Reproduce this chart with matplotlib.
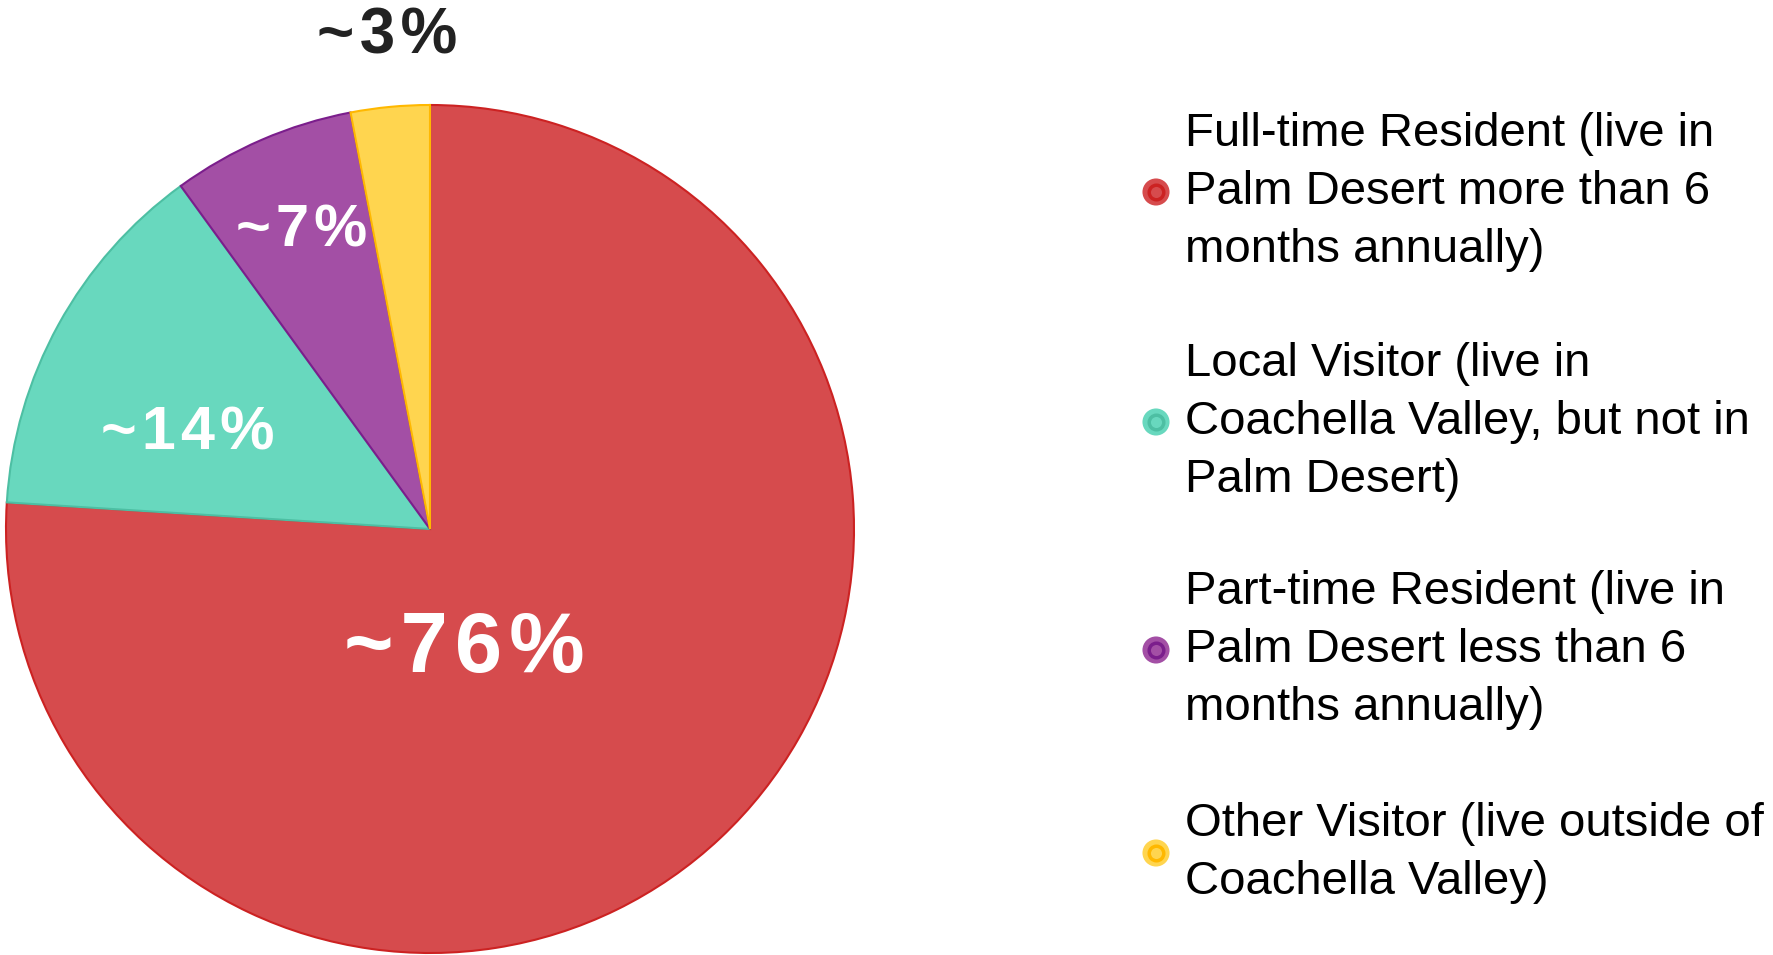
import matplotlib.pyplot as plt

plt.rcParams['font.family'] = ['Liberation Sans', 'DejaVu Sans']

categories = ["Full-time Resident (live in\nPalm Desert more than 6\nmonths annually)",
              "Local Visitor (live in\nCoachella Valley, but not in\nPalm Desert)",
              "Part-time Resident (live in\nPalm Desert less than 6\nmonths annually)",
              "Other Visitor (live outside of\nCoachella Valley)"]
values = [76, 14, 7, 3]
pct_labels = ["~76%", "~14%", "~7%", "~3%"]

colors = ["#D64B4D", "#68D8BE", "#A34FA5", "#FFD54F"]
edge_colors = ["#CC2222", "#4DBFA3", "#7B1E8C", "#FFB800"]

W, H = 1773, 955
fig = plt.figure(figsize=(W / 100, H / 100), dpi=100)

# pie axes: centre (430, 529) px, radius 424 px
cx, cy, r = 430, 529, 424
ax = fig.add_axes([(cx - r) / W, (H - cy - r) / H, 2 * r / W, 2 * r / H])
wedges, _ = ax.pie(values, colors=colors, startangle=90, counterclock=False,
                   wedgeprops=dict(linewidth=1.5))
for w, ec in zip(wedges, edge_colors):
    w.set_edgecolor(ec)
ax.set_xlim(-1.0, 1.0)
ax.set_ylim(-1.0, 1.0)
ax.axis("off")

# wider letter spacing, as in the original
def spaced(s):
    return "\u200a".join(s)

label_pos = [(0.08, -0.285), (-0.572, 0.224), (-0.302, 0.703), (-0.1, 1.162)]
label_size = [61, 44, 43, 46]
label_color = ["white", "white", "white", "#222222"]
for txt, (x, y), fs, c in zip(pct_labels, label_pos, label_size, label_color):
    ax.text(x, y, spaced(txt), ha="center", va="center", fontsize=fs,
            fontweight="bold", color=c, clip_on=False)

# legend
lax = fig.add_axes([0, 0, 1, 1])
lax.set_xlim(0, W)
lax.set_ylim(H, 0)
lax.axis("off")
legend_y = [192, 422, 650, 853]
for name, y, c, ec in zip(categories, legend_y, colors, edge_colors):
    lax.scatter([1156], [y], s=380, color=c, edgecolors="none")
    lax.scatter([1156], [y], s=110, color=c, edgecolors=ec, linewidths=2.5)
    lax.text(1185, y, name, ha="left", va="center", fontsize=34,
             linespacing=1.4, color="black")

fig.savefig("out.png", dpi=100)
